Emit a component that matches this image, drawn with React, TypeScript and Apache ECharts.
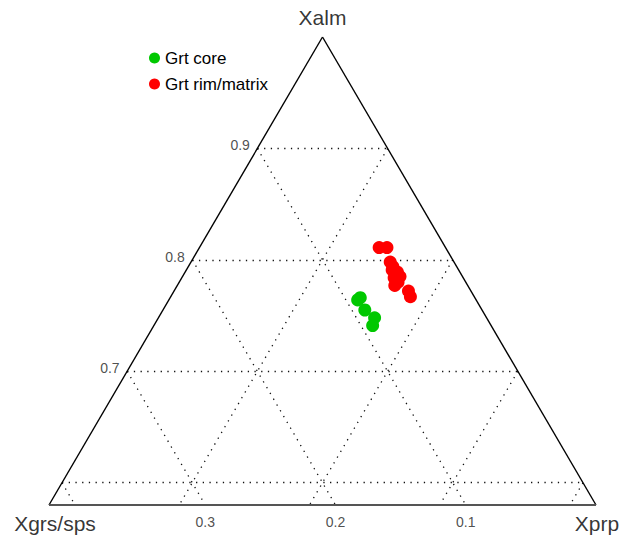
import React, { useEffect, useRef } from "react";
import * as echarts from "echarts";

// Ternary data: Xalm, Xprp, Xgrs/sps (sum = 1)
const coreAlm = [0.764, 0.766, 0.755, 0.748, 0.741];
const corePrp = [0.145, 0.146, 0.155, 0.166, 0.168];
const coreGrs = [0.091, 0.088, 0.090, 0.086, 0.091];

const rimAlm = [0.811, 0.811, 0.798, 0.794, 0.791, 0.789, 0.784, 0.785, 0.780, 0.777, 0.772, 0.767];
const rimPrp = [0.138, 0.144, 0.153, 0.157, 0.158, 0.163, 0.163, 0.167, 0.168, 0.167, 0.180, 0.184];
const rimGrs = [0.051, 0.045, 0.049, 0.049, 0.051, 0.048, 0.053, 0.048, 0.052, 0.056, 0.048, 0.049];

const almGrid = [0.9, 0.8, 0.7, 0.6];
const grsGrid = [0.1, 0.2, 0.3, 0.4];
const prpGrid = [0.1, 0.2, 0.3, 0.4];
const almTickLabels = ["0.9", "0.8", "0.7"];
const almTicks = [0.9, 0.8, 0.7];
const grsTickLabels = ["0.3", "0.2", "0.1"];
const grsTicks = [0.3, 0.2, 0.1];

const ALM_MIN = 0.58;
const SPAN = 1 - ALM_MIN;

const toXY = (alm: number, prp: number) => [prp + (alm - ALM_MIN) / 2, alm];

const FONT = "'Liberation Sans', Arial, sans-serif";

export default function App() {
  const ref = useRef<HTMLDivElement>(null);
  useEffect(() => {
    document.body.style.margin = "0";
    const chart = echarts.init(ref.current!, null, { renderer: "svg" });

    const gridLines: any[] = [];
    almGrid.forEach((a) => gridLines.push({ coords: [toXY(a, 0), toXY(a, 1 - a)] }));
    grsGrid.forEach((g) => gridLines.push({ coords: [toXY(1 - g, 0), toXY(ALM_MIN, SPAN - g)] }));
    prpGrid.forEach((p) => gridLines.push({ coords: [toXY(1 - p, p), toXY(ALM_MIN, p)] }));

    const top = toXY(1, 0);
    const left = toXY(ALM_MIN, 0);
    const right = toXY(ALM_MIN, SPAN);

    const coreData = coreAlm.map((a, i) => toXY(a, corePrp[i]).concat([coreGrs[i]]));
    const rimData = rimAlm.map((a, i) => toXY(a, rimPrp[i]).concat([rimGrs[i]]));

    const labelSeries = (data: any[], label: any) => ({
      type: "scatter",
      silent: true,
      symbolSize: 1,
      itemStyle: { color: "rgba(0,0,0,0)" },
      data,
      label: { show: true, fontFamily: FONT, ...label },
      z: 5,
    });

    chart.setOption({
      animation: false,
      backgroundColor: "#fff",
      grid: { left: 49, top: 37, width: 547, height: 468 },
      xAxis: { type: "value", min: 0, max: SPAN, show: false },
      yAxis: { type: "value", min: ALM_MIN, max: 1, show: false },
      legend: {
        orient: "vertical",
        left: 144,
        top: 44,
        icon: "circle",
        itemWidth: 11,
        itemHeight: 11,
        itemGap: 8,
        data: ["Grt core", "Grt rim/matrix"],
        textStyle: { fontSize: 17, fontFamily: FONT, color: "#000", lineHeight: 18 },
      },
      series: [
        {
          type: "lines",
          coordinateSystem: "cartesian2d",
          silent: true,
          data: gridLines,
          lineStyle: { color: "#111", width: 1.3, type: [1.3, 5.4], opacity: 1 },
          z: 1,
        },
        {
          type: "lines",
          coordinateSystem: "cartesian2d",
          silent: true,
          data: [{ coords: [left, top] }, { coords: [top, right] }],
          lineStyle: { color: "#000", width: 1.4, type: "solid", opacity: 1 },
          z: 2,
        },
        {
          type: "lines",
          coordinateSystem: "cartesian2d",
          silent: true,
          data: [{ coords: [left, right] }],
          lineStyle: { color: "#555", width: 2, type: "solid", opacity: 1 },
          z: 2,
        },
        {
          name: "Grt core",
          type: "scatter",
          symbolSize: 13,
          itemStyle: { color: "#00c800", opacity: 1 },
          data: coreData,
          z: 10,
        },
        {
          name: "Grt rim/matrix",
          type: "scatter",
          symbolSize: 13,
          itemStyle: { color: "#ff0000", opacity: 1 },
          data: rimData,
          z: 10,
        },
        labelSeries(
          almTicks.map((a, i) => ({ value: toXY(a, 0), name: almTickLabels[i] })),
          { position: "left", distance: 7, offset: [0, -3], formatter: "{b}", fontSize: 14, color: "#222" }
        ),
        labelSeries(
          grsTicks.map((g, i) => ({ value: toXY(ALM_MIN, SPAN - g), name: grsTickLabels[i] })),
          { position: "bottom", distance: 9, formatter: "{b}", fontSize: 14, color: "#222" }
        ),
        labelSeries([{ value: top, name: "Xalm" }], {
          position: "top", distance: 9, formatter: "{b}", fontSize: 21, color: "#000",
        }),
        labelSeries([{ value: left, name: "Xgrs/sps" }], {
          position: "bottom", distance: 7, offset: [6, 0], formatter: "{b}", fontSize: 21, color: "#000",
        }),
        labelSeries([{ value: right, name: "Xprp" }], {
          position: "bottom", distance: 7, offset: [1, 0], formatter: "{b}", fontSize: 21, color: "#000",
        }),
      ],
    });
    return () => chart.dispose();
  }, []);
  return <div ref={ref} style={{ width: 620, height: 537 }} />;
}
